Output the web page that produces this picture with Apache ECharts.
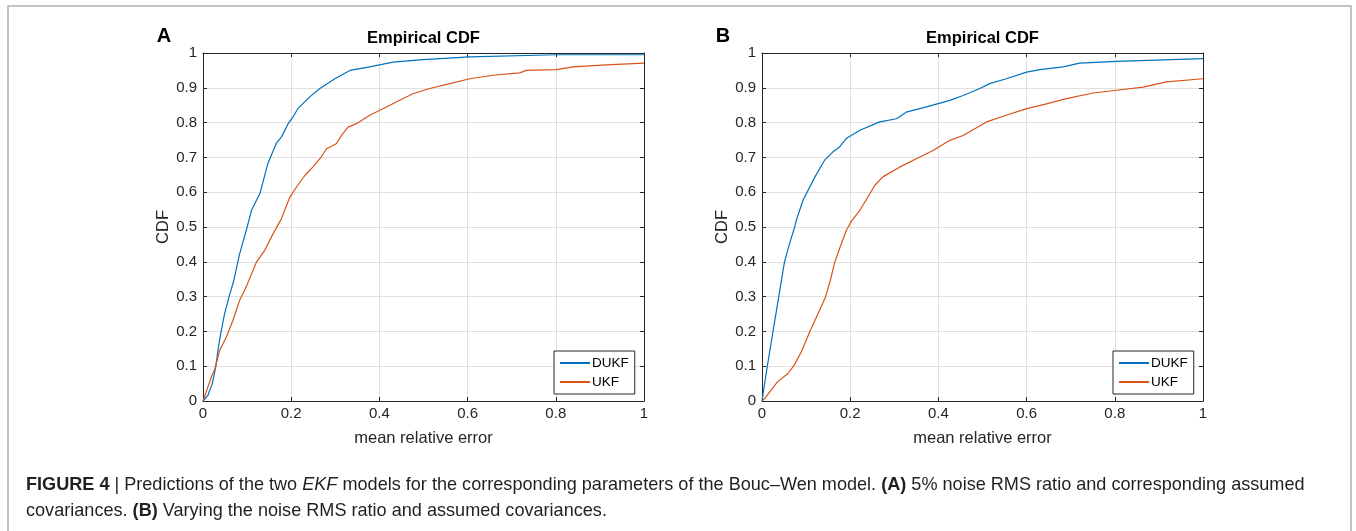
<!DOCTYPE html>
<html><head><meta charset="utf-8">
<script src="https://cdn.jsdelivr.net/npm/echarts@6/dist/echarts.min.js"></script>
<style>html,body{margin:0;padding:0;background:#fff}#c{width:1356px;height:531px}</style>
</head><body><div id="c"></div>
<script>
// Panel A
const aDukfX = [0, 0.011, 0.021, 0.029, 0.034, 0.04, 0.049, 0.059, 0.07, 0.083, 0.098, 0.11, 0.129, 0.147, 0.166, 0.178, 0.193, 0.204, 0.215, 0.242, 0.265, 0.299, 0.333, 0.378, 0.431, 0.499, 0.605, 0.801, 1.0];
const aDukfY = [0, 0.016, 0.05, 0.098, 0.146, 0.193, 0.251, 0.299, 0.347, 0.423, 0.49, 0.548, 0.596, 0.682, 0.74, 0.759, 0.797, 0.816, 0.84, 0.874, 0.898, 0.926, 0.95, 0.96, 0.974, 0.981, 0.989, 0.995, 0.995];
const aUkfX = [0, 0.011, 0.019, 0.027, 0.038, 0.053, 0.068, 0.083, 0.098, 0.121, 0.14, 0.159, 0.178, 0.197, 0.212, 0.231, 0.249, 0.268, 0.28, 0.302, 0.314, 0.329, 0.348, 0.378, 0.416, 0.446, 0.476, 0.514, 0.56, 0.605, 0.658, 0.718, 0.733, 0.801, 0.839, 0.915, 1.0];
const aUkfY = [0, 0.04, 0.069, 0.093, 0.146, 0.184, 0.232, 0.289, 0.328, 0.399, 0.433, 0.481, 0.524, 0.586, 0.615, 0.648, 0.672, 0.701, 0.725, 0.739, 0.763, 0.787, 0.797, 0.821, 0.845, 0.864, 0.883, 0.898, 0.912, 0.926, 0.936, 0.943, 0.95, 0.952, 0.96, 0.966, 0.971];
// Panel B
const bDukfX = [0, 0.012, 0.025, 0.038, 0.051, 0.062, 0.074, 0.078, 0.093, 0.12, 0.142, 0.161, 0.176, 0.191, 0.222, 0.267, 0.305, 0.327, 0.373, 0.426, 0.456, 0.494, 0.516, 0.554, 0.60, 0.63, 0.683, 0.72, 0.804, 1.0];
const bDukfY = [0, 0.1, 0.2, 0.3, 0.4, 0.45, 0.5, 0.52, 0.577, 0.644, 0.692, 0.716, 0.73, 0.754, 0.778, 0.802, 0.811, 0.83, 0.845, 0.864, 0.878, 0.898, 0.912, 0.926, 0.945, 0.952, 0.96, 0.971, 0.976, 0.984];
const bUkfX = [0, 0.006, 0.035, 0.059, 0.073, 0.089, 0.108, 0.127, 0.144, 0.155, 0.165, 0.176, 0.191, 0.204, 0.222, 0.256, 0.274, 0.312, 0.35, 0.388, 0.426, 0.456, 0.509, 0.554, 0.60, 0.645, 0.69, 0.751, 0.804, 0.864, 0.917, 1.0];
const bUkfY = [0, 0.007, 0.055, 0.079, 0.103, 0.141, 0.198, 0.251, 0.299, 0.347, 0.399, 0.438, 0.49, 0.519, 0.548, 0.62, 0.644, 0.672, 0.696, 0.72, 0.749, 0.763, 0.802, 0.821, 0.84, 0.854, 0.869, 0.885, 0.893, 0.902, 0.917, 0.926];

const seriesNames = ['DUKF', 'UKF'];
const panelLabels = ['A', 'B'];
const panelTitle = 'Empirical CDF';
const xName = 'mean relative error';
const yName = 'CDF';

const zip = (xs, ys) => xs.map((x, i) => [x, ys[i]]);
const BLUE = '#0072BD', ORANGE = '#D95319', AX = '#262626';
const FONT = '"Liberation Sans", Arial, sans-serif';

const grids = [
  {left: 203, width: 441, top: 53, height: 348},
  {left: 762, width: 441, top: 53, height: 348}
];

const lineAx = {show: true, onZero: false, lineStyle: {color: AX, width: 1}};
const tickAx = {show: true, inside: true, length: 4, lineStyle: {color: AX}};
const xAxes = [], yAxes = [];
grids.forEach((g, i) => {
  xAxes.push({
    type: 'value', gridIndex: i, min: 0, max: 1, interval: 0.2, position: 'bottom',
    name: xName, nameLocation: 'middle', nameGap: 29,
    nameTextStyle: {fontFamily: FONT, fontSize: 16.5, color: AX},
    axisLine: lineAx, axisTick: tickAx,
    axisLabel: {fontFamily: FONT, fontSize: 15, color: AX, margin: 5},
    splitLine: {show: true, lineStyle: {color: '#e0e0e0', width: 1}}
  });
  xAxes.push({
    type: 'value', gridIndex: i, min: 0, max: 1, interval: 0.2, position: 'top',
    axisLine: lineAx, axisTick: tickAx,
    axisLabel: {show: false}, splitLine: {show: false}
  });
  yAxes.push({
    type: 'value', gridIndex: i, min: 0, max: 1, interval: 0.1, position: 'left',
    name: yName, nameLocation: 'middle', nameGap: 30, nameRotate: 90,
    nameTextStyle: {fontFamily: FONT, fontSize: 16.5, color: AX},
    axisLine: lineAx, axisTick: tickAx,
    axisLabel: {fontFamily: FONT, fontSize: 15, color: AX, margin: 6},
    splitLine: {show: true, lineStyle: {color: '#e0e0e0', width: 1}}
  });
  yAxes.push({
    type: 'value', gridIndex: i, min: 0, max: 1, interval: 0.1, position: 'right',
    axisLine: lineAx, axisTick: tickAx,
    axisLabel: {show: false}, splitLine: {show: false}
  });
});

const mk = (name, data, color, gi) => ({
  type: 'line', name, data, xAxisIndex: gi * 2, yAxisIndex: gi * 2,
  symbol: 'none', lineStyle: {color, width: 1.2}, itemStyle: {color},
  animation: false, z: 3
});

const series = [
  mk(seriesNames[0], zip(aDukfX, aDukfY), BLUE, 0),
  mk(seriesNames[1], zip(aUkfX, aUkfY), ORANGE, 0),
  mk(seriesNames[0], zip(bDukfX, bDukfY), BLUE, 1),
  mk(seriesNames[1], zip(bUkfX, bUkfY), ORANGE, 1)
];

const legendBase = {
  orient: 'vertical', data: seriesNames, icon: 'rect', itemWidth: 30, itemHeight: 2,
  itemGap: 5, backgroundColor: '#fff', borderColor: AX, borderWidth: 1,
  padding: [5, 6, 5, 6], selectedMode: false,
  textStyle: {fontFamily: FONT, fontSize: 13.5, color: '#000', padding: [0, 0, 0, -3]}
};

const graphic = [];
grids.forEach((g, i) => {
  graphic.push({type: 'text', x: g.left - 39, y: 36,
    style: {text: panelLabels[i], font: 'bold 20px ' + FONT, fill: '#000', textAlign: 'center', textVerticalAlign: 'middle'}});
  graphic.push({type: 'text', x: g.left + g.width / 2, y: 38,
    style: {text: panelTitle, font: 'bold 16.5px ' + FONT, fill: '#000', textAlign: 'center', textVerticalAlign: 'middle'}});
});
graphic.push({type: 'rect', shape: {x: 8, y: 6, width: 1343, height: 540}, style: {fill: 'none', stroke: '#b0b0b0', lineWidth: 1.5}, silent: true});
graphic.push({type: 'text', x: 26, y: 485, style: {
  text: '{b|FIGURE 4} | Predictions of the two {i|EKF} models for the corresponding parameters of the Bouc–Wen model. {b|(A)} 5% noise RMS ratio and corresponding assumed',
  font: '18.1px ' + FONT, fill: '#231f20', textVerticalAlign: 'middle',
  rich: {b: {fontWeight: 'bold', fontSize: 18.1, fontFamily: FONT, fill: '#231f20'}, i: {fontStyle: 'italic', fontSize: 18.1, fontFamily: FONT, fill: '#231f20'}}
}});
graphic.push({type: 'text', x: 26, y: 511, style: {
  text: 'covariances. {b|(B)} Varying the noise RMS ratio and assumed covariances.',
  font: '18.1px ' + FONT, fill: '#231f20', textVerticalAlign: 'middle',
  rich: {b: {fontWeight: 'bold', fontSize: 18.1, fontFamily: FONT, fill: '#231f20'}}
}});

const chart = echarts.init(document.getElementById('c'), null, {renderer: 'canvas'});
chart.setOption({
  animation: false,
  backgroundColor: '#fff',
  grid: grids.map(g => Object.assign({containLabel: false}, g)),
  xAxis: xAxes, yAxis: yAxes, series,
  legend: [
    Object.assign({}, legendBase, {left: 554, top: 351}),
    Object.assign({}, legendBase, {left: 1113, top: 351})
  ],
  graphic
});
</script></body></html>
